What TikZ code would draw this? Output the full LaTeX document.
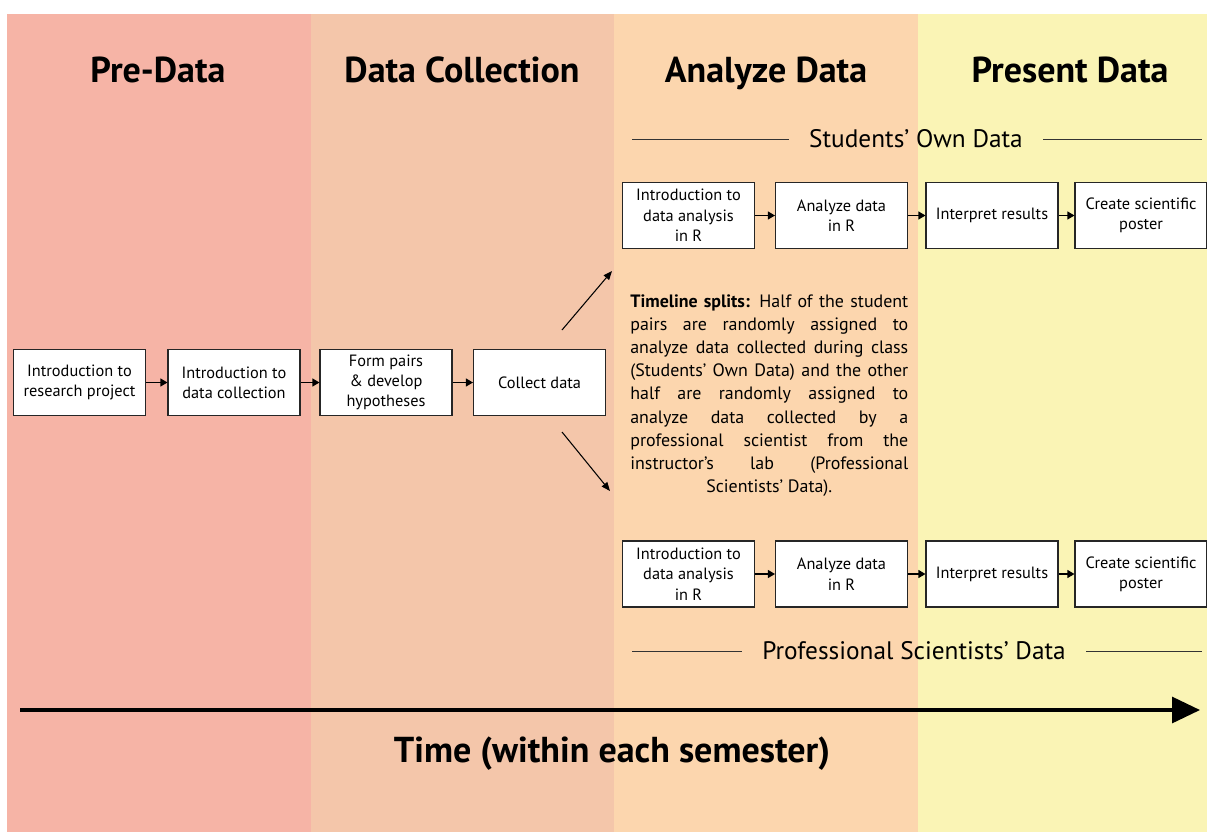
\documentclass[tikz,border=0pt]{standalone}
\usepackage{fontspec}
\setmainfont{PT Sans}
\usetikzlibrary{arrows.meta}

\definecolor{PreRed}{HTML}{F6B4A6}
\definecolor{CollectPeach}{HTML}{F4C6AA}
\definecolor{AnalyzeOrange}{HTML}{FCD6AE}
\definecolor{PresentYellow}{HTML}{FAF4B5}

\newcommand{\fullline}[1]{\makebox[5.56cm][s]{#1}}

\begin{document}
\begin{tikzpicture}[x=0.02cm, y=-0.02cm,
      stepbox/.style={draw=black!85, line width=0.6pt, fill=white,
         minimum width=2.64cm, minimum height=1.32cm, inner sep=1pt,
         align=center, font=\fontsize{9.3}{11.6}\selectfont},
      phase/.style={anchor=base, font=\fontsize{20.5}{24}\selectfont\bfseries},
      flow/.style={-{Triangle[length=4pt, width=4.5pt]}, line width=0.7pt},
      split/.style={-{Triangle[length=5pt, width=4pt]}, line width=0.6pt},
      branch/.style={font=\fontsize{14.4}{17}\selectfont, inner xsep=0.4cm}]
      \useasboundingbox (0,0) rectangle (1207,832);

      % phase bands
      \fill [PreRed] (7,14) rectangle (311,832);
      \fill [CollectPeach] (311,14) rectangle (614,832);
      \fill [AnalyzeOrange] (614,14) rectangle (918,832);
      \fill [PresentYellow] (918,14) rectangle (1207,832);

      \node (predata) at (158,82) [phase] {Pre-Data};
      \node (collection) at (462,82) [phase] {Data Collection};
      \node (analyze) at (766,82) [phase] {Analyze Data};
      \node (present) at (1070,82) [phase] {Present Data};

      % common steps
      \node (intro) at (79.5,382.5) [stepbox] {Introduction to\\research project};
      \node (introcol) at (234,382.5) [stepbox] {Introduction to\\data collection};
      \node (pairs) at (386,382.5) [stepbox] {Form pairs\\\& develop\\hypotheses};
      \node (collect) at (539.5,382.5) [stepbox] {Collect data};
      \draw [flow] (intro) -- (introcol);
      \draw [flow] (introcol) -- (pairs);
      \draw [flow] (pairs) -- (collect);

      % students' own data
      \node (own) at (916,139) [branch] {Students’ Own Data};
      \coordinate (ownL) at (632,139);
      \coordinate (ownR) at (1202,139);
      \draw [line width=0.5pt, black!80] (ownL) -- (own.west);
      \draw [line width=0.5pt, black!80] (own.east) -- (ownR);

      \node (ownintro) at (688.5,215.5) [stepbox] {Introduction to\\data analysis\\in R};
      \node (ownanalyze) at (841.5,215.5) [stepbox] {Analyze data\\in R};
      \node (owninterpret) at (992,215.5) [stepbox] {Interpret results};
      \node (ownposter) at (1141,215.5) [stepbox] {Create scientific\\poster};
      \draw [flow] (ownintro) -- (ownanalyze);
      \draw [flow] (ownanalyze) -- (owninterpret);
      \draw [flow] (owninterpret) -- (ownposter);

      % the split
      \coordinate (upfrom) at (562,330);
      \coordinate (upto) at (612,271);
      \coordinate (downfrom) at (562,432);
      \coordinate (downto) at (610,491);
      \draw [split] (upfrom) -- (upto);
      \draw [split] (downfrom) -- (downto);

      \node (splits) at (630,294) [anchor=north west, inner sep=0pt,
         align=center, font=\fontsize{10.2}{13.2}\selectfont] {%
         \fullline{\textbf{Timeline splits:} Half of the student}\\
         \fullline{pairs are randomly assigned to}\\
         \fullline{analyze data collected during class}\\
         \fullline{(Students’ Own Data) and the other}\\
         \fullline{half are randomly assigned to}\\
         \fullline{analyze data collected by a}\\
         \fullline{professional scientist from the}\\
         \fullline{instructor’s lab (Professional}\\
         Scientists’ Data).};

      % professional scientists' data
      \node (proint) at (688.5,574) [stepbox] {Introduction to\\data analysis\\in R};
      \node (proanalyze) at (841.5,574) [stepbox] {Analyze data\\in R};
      \node (prointerpret) at (992,574) [stepbox] {Interpret results};
      \node (proposter) at (1141,574) [stepbox] {Create scientific\\poster};
      \draw [flow] (proint) -- (proanalyze);
      \draw [flow] (proanalyze) -- (prointerpret);
      \draw [flow] (prointerpret) -- (proposter);

      \node (pro) at (914,651) [branch] {Professional Scientists’ Data};
      \coordinate (proL) at (632,651);
      \coordinate (proR) at (1202,651);
      \draw [line width=0.5pt, black!80] (proL) -- (pro.west);
      \draw [line width=0.5pt, black!80] (pro.east) -- (proR);

      % time axis
      \coordinate (start) at (20,710);
      \coordinate (end) at (1200,710);
      \draw [line width=1.8pt, -{Triangle[length=0.56cm, width=0.52cm]}] (start) -- (end);
      \node (time) at (612,762) [phase] {Time (within each semester)};
   \end{tikzpicture}
\end{document}
